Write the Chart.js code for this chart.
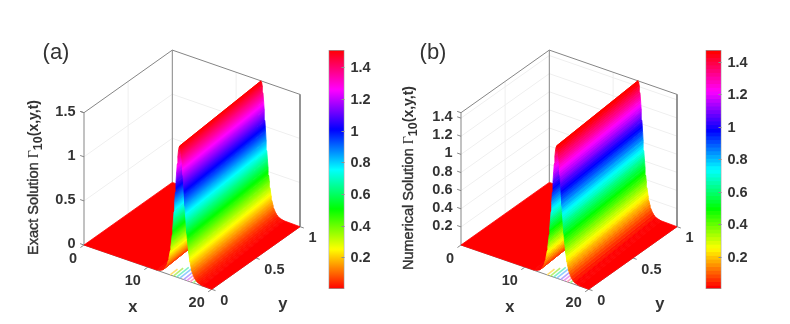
<!DOCTYPE html>
<html>
<head>
<meta charset="utf-8">
<title>Exact and numerical solution</title>
<script src="https://cdn.jsdelivr.net/npm/chart.js@4/dist/chart.umd.min.js"></script>
<style>
    html, body { margin: 0; background: #fff; }
    body { position: relative; width: 790px; height: 324px; overflow: hidden; }
    canvas { position: absolute; filter: blur(0.35px); }
</style>
</head>
<body>
<canvas id="surface-a" width="320" height="324" style="left:0;top:0"></canvas>
<canvas id="colorbar-a" width="62" height="260" style="left:328px;top:40px"></canvas>
<canvas id="surface-b" width="320" height="324" style="left:377px;top:0"></canvas>
<canvas id="colorbar-b" width="62" height="260" style="left:705px;top:40px"></canvas>
<script>
// cross section of the ridge at y = 0
const surfaceX = [11.4, 11.6, 11.8, 12.0, 12.2, 12.4, 12.6, 12.8, 13.0, 13.1, 13.2, 13.3, 13.4, 13.5, 13.6, 13.7, 13.8, 13.9, 14.0, 14.1, 14.2, 14.3, 14.4, 14.5, 14.6, 14.7, 14.8, 14.9, 15.0, 15.1, 15.2, 15.3, 15.4, 15.5, 15.6, 15.7, 15.8, 15.9, 16.0, 16.1, 16.2, 16.3, 16.4, 16.5, 16.6, 16.7, 16.8, 16.9, 17.0, 17.2, 17.4, 17.6, 17.8, 18.0, 18.2, 18.4, 18.6];
const exactZ = [0.004, 0.007, 0.010, 0.015, 0.022, 0.033, 0.049, 0.072, 0.106, 0.128, 0.155, 0.187, 0.226, 0.271, 0.324, 0.386, 0.457, 0.539, 0.630, 0.730, 0.839, 0.952, 1.067, 1.180, 1.283, 1.373, 1.441, 1.485, 1.500, 1.485, 1.441, 1.373, 1.283, 1.180, 1.067, 0.952, 0.839, 0.730, 0.630, 0.539, 0.457, 0.386, 0.324, 0.271, 0.226, 0.187, 0.155, 0.128, 0.106, 0.072, 0.049, 0.033, 0.022, 0.015, 0.010, 0.007, 0.004];
const numericalZ = [0.004, 0.007, 0.010, 0.015, 0.021, 0.032, 0.048, 0.070, 0.103, 0.125, 0.151, 0.182, 0.220, 0.264, 0.316, 0.376, 0.446, 0.525, 0.614, 0.712, 0.818, 0.928, 1.040, 1.150, 1.250, 1.338, 1.404, 1.447, 1.462, 1.447, 1.404, 1.338, 1.250, 1.150, 1.040, 0.928, 0.818, 0.712, 0.614, 0.525, 0.446, 0.376, 0.316, 0.264, 0.220, 0.182, 0.151, 0.125, 0.103, 0.070, 0.048, 0.032, 0.021, 0.015, 0.010, 0.007, 0.004];

// the ridge leans: its crest sits at a smaller x on the far side
const surfaceY = [0, 1];
const ridgeShift = [0, -1.1];

// thin mesh lines left visible on the floor under the ridge
const meshX = [13.5, 14.0, 14.5, 15.0, 15.6, 16.1, 16.6, 17.1];
const meshY = [0.09, 0.12, 0.15, 0.18, 0.22, 0.26, 0.29, 0.32];
const meshColors = ['#ffe070', '#b8f070', '#80f0c8', '#90ccff', '#b8a4ff', '#f098f0', '#ffa0c0', '#a8f090'];

const xTicks = [0, 10, 20];
const yTicks = [0, 0.5, 1];
const zTicksA = [0, 0.5, 1, 1.5];
const zTicksB = [0.2, 0.4, 0.6, 0.8, 1, 1.2, 1.4];
const colorTicks = [0.2, 0.4, 0.6, 0.8, 1, 1.2, 1.4];
const zRangeA = [0, 1.5];
const zRangeB = [0, 1.46];
const colorRangeA = [0, 1.508];
const colorRangeB = [0, 1.472];

const SANS = '"Liberation Sans", Arial, sans-serif';
const TICK_FONT = 'bold 14.5px ' + SANS;
const TEXT = '#333333';

const panelA = {
    z: exactZ, zTicks: zTicksA, zMax: zRangeA[1], tag: '(a)',
    title: 'Exact Solution', titleBottom: 255, titleX: 38,
};
const panelB = {
    z: numericalZ, zTicks: zTicksB, zMax: zRangeB[1], tag: '(b)',
    title: 'Numerical Solution', titleBottom: 270, titleX: 36,
};

// hsv colormap, same as matlab
function hsvColor(z, max, levels) {
    let t = Math.min(Math.max(z / max, 0), 1);
    if (levels) t = Math.min(Math.floor(t * levels), levels - 1) / (levels - 1);
    const h = t * 6;
    const f = h - Math.floor(h);
    const seg = Math.floor(h) % 6;
    const rgb = [[1, f, 0], [1 - f, 1, 0], [0, 1, f], [0, 1 - f, 1], [f, 0, 1], [1, 0, 1 - f]][seg];
    return 'rgb(' + rgb.map(c => Math.round(c * 255)).join(',') + ')';
}

// flat 3d axes onto the plane of the hidden chart scales
function project(x, y, z, zMax) {
    return {
        x: 84 + x * 6.385 + y * 88.3,
        y: 245 + x * 2.215 - y * 62.6 - z / zMax * 132.3,
    };
}

function lineSet(points, color, width) {
    return {
        data: points, showLine: true, fill: false, borderColor: color, borderWidth: width,
        pointRadius: 0, tension: 0,
    };
}

function quadSet(points, color) {
    return {
        data: [...points, points[0]], showLine: true, fill: 'shape', backgroundColor: color,
        borderColor: color, borderWidth: 0.8, pointRadius: 0, tension: 0,
    };
}

function stripColor(panel, i, levels) {
    let cached = null;
    return (ctx) => {
        if (cached) return cached;
        const { x: sx, y: sy } = ctx.chart.scales;
        const pix = (x, y, z) => {
            const p = project(x, y, z, panel.zMax);
            return { x: sx.getPixelForValue(p.x), y: sy.getPixelForValue(p.y) };
        };
        const z0 = panel.z[i];
        const z1 = panel.z[i + 1];
        const a = pix(surfaceX[i], surfaceY[0], z0);
        const b = pix(surfaceX[i + 1], surfaceY[0], z1);
        const far = pix(surfaceX[i] + ridgeShift[1], surfaceY[1], z0);
        if (![a.x, a.y, b.x, far.x].every(Number.isFinite)) return hsvColor(z0, panel.zMax);
        // colour only changes across the strip, never along the ridge
        const vx = far.x - a.x;
        const vy = far.y - a.y;
        const len = Math.hypot(vx, vy);
        const nx = -vy / len;
        const ny = vx / len;
        const d = (b.x - a.x) * nx + (b.y - a.y) * ny;
        const grad = ctx.chart.ctx.createLinearGradient(a.x, a.y, a.x + nx * d, a.y + ny * d);
        const steps = 12;
        for (let s = 0; s <= steps; s++) {
            const t = s / steps;
            grad.addColorStop(t, hsvColor(z0 + (z1 - z0) * t, panel.zMax, levels));
        }
        cached = grad;
        return grad;
    };
}

function buildDatasets(panel, levels) {
    const P = (x, y, z) => project(x, y, z, panel.zMax);
    const sets = [];
    const zMax = panel.zMax;

    // wall grid
    panel.zTicks.filter(z => z > 0 && z < zMax).forEach(z => {
        sets.push(lineSet([P(0, 0, z), P(0, 1, z), P(20, 1, z)], '#efefef', 1));
    });
    sets.push(lineSet([P(0, 0.5, 0), P(0, 0.5, zMax)], '#efefef', 1));
    sets.push(lineSet([P(10, 1, 0), P(10, 1, zMax)], '#efefef', 1));

    // box
    const edge = '#858585';
    sets.push(lineSet([P(0, 0, 0), P(0, 0, zMax), P(0, 1, zMax), P(20, 1, zMax), P(20, 1, 0)], edge, 1));
    sets.push(lineSet([P(0, 1, 0), P(0, 1, zMax)], edge, 1));
    sets.push(lineSet([P(0, 0, 0), P(20, 0, 0), P(20, 1, 0)], edge, 1));

    // ticks
    panel.zTicks.concat(zMax).forEach(z => sets.push(lineSet([P(0, 0, z), P(-0.6, 0, z)], edge, 1)));
    xTicks.forEach(x => sets.push(lineSet([P(x, 0, 0), P(x, -0.04, 0)], edge, 1)));
    yTicks.forEach(y => sets.push(lineSet([P(20, y, 0), P(20.6, y, 0)], edge, 1)));

    const last = surfaceX.length - 1;
    const crest = panel.z.indexOf(Math.max(...panel.z));

    // flat floor left of the ridge
    sets.push(quadSet([P(0, 0, 0), P(surfaceX[0], 0, panel.z[0]), P(surfaceX[0] + ridgeShift[1], 1, panel.z[0]), P(0, 1, 0)], hsvColor(0, zMax)));

    const strip = (i) => {
        const pts = [
            P(surfaceX[i] + ridgeShift[0], surfaceY[0], panel.z[i]),
            P(surfaceX[i + 1] + ridgeShift[0], surfaceY[0], panel.z[i + 1]),
            P(surfaceX[i + 1] + ridgeShift[1], surfaceY[1], panel.z[i + 1]),
            P(surfaceX[i] + ridgeShift[1], surfaceY[1], panel.z[i]),
        ];
        sets.push(quadSet(pts, stripColor(panel, i, levels)));
    };

    for (let i = 0; i < crest; i++) strip(i);

    meshX.forEach((x, i) => {
        sets.push(lineSet([P(x, 0, 0), P(x + meshY[i] * ridgeShift[1], meshY[i], 0)], meshColors[i], 1.6));
    });

    for (let i = crest; i < last; i++) strip(i);

    // flat floor right of the ridge
    sets.push(quadSet([P(surfaceX[last], 0, panel.z[last]), P(20, 0, 0), P(20, 1, 0), P(surfaceX[last] + ridgeShift[1], 1, panel.z[last])], hsvColor(0, zMax)));

    // first dataset ends up on top in chart.js, so flip the painter order
    return sets.reverse();
}

const surfaceText = {
    id: 'surfaceText',
    afterDraw(chart, args, opts) {
        const panel = opts.panel;
        const { ctx, scales } = chart;
        const at = (x, y, z) => {
            const p = project(x, y, z, panel.zMax);
            return { x: scales.x.getPixelForValue(p.x), y: scales.y.getPixelForValue(p.y) };
        };
        ctx.save();
        ctx.fillStyle = TEXT;
        ctx.textBaseline = 'middle';
        ctx.font = TICK_FONT;

        ctx.textAlign = 'right';
        panel.zTicks.forEach(z => {
            const p = at(0, 0, z);
            ctx.fillText(String(z), p.x - 8.5, p.y - 1);
        });
        xTicks.forEach(x => {
            const p = at(x, 0, 0);
            ctx.fillText(String(x), p.x - 7, p.y + 14);
        });
        ctx.textAlign = 'left';
        yTicks.forEach(y => {
            const p = at(20, y, 0);
            ctx.fillText(String(y), p.x + 8.5, p.y + 11.5);
        });

        ctx.font = 'bold 16.5px ' + SANS;
        ctx.textAlign = 'center';
        const xName = at(10, 0, 0);
        ctx.fillText('x', xName.x - 15, xName.y + 40);
        const yName = at(20, 0.5, 0);
        ctx.fillText('y', yName.x + 27, yName.y + 46.5);

        ctx.font = '22px ' + SANS;
        ctx.fillText(panel.tag, 56, 53);

        // rotated z title, one run per font
        ctx.save();
        ctx.translate(panel.titleX, panel.titleBottom);
        ctx.rotate(-Math.PI / 2);
        ctx.textAlign = 'left';
        ctx.textBaseline = 'alphabetic';
        ctx.strokeStyle = TEXT;
        ctx.lineWidth = 0.4;
        const runs = [
            [panel.title + ' ', '14.5px ' + SANS, 0, true],
            ['\u0393', '14px "Liberation Serif", serif', 0, false],
            ['10', 'bold 12.5px ' + SANS, 4, false],
            ['(x,y,t)', 'bold 14px ' + SANS, 0, false],
        ];
        let cursor = 0;
        runs.forEach(([text, font, drop, heavy]) => {
            ctx.font = font;
            ctx.fillText(text, cursor, drop);
            if (heavy) ctx.strokeText(text, cursor, drop);
            cursor += ctx.measureText(text).width;
        });
        ctx.restore();
        ctx.restore();
    },
};

function drawSurface(id, panel, levels) {
    new Chart(document.getElementById(id).getContext('2d'), {
        type: 'scatter',
        data: { datasets: buildDatasets(panel, levels) },
        options: {
            responsive: false,
            animation: false,
            scales: {
                x: { type: 'linear', display: false, min: 0, max: 320 },
                y: { type: 'linear', display: false, min: 0, max: 324, reverse: true },
            },
            plugins: {
                legend: { display: false },
                tooltip: { enabled: false },
                surfaceText: { panel },
            },
        },
        plugins: [surfaceText],
    });
}

const barTicks = {
    id: 'barTicks',
    afterDatasetsDraw(chart) {
        const { ctx, chartArea, scales } = chart;
        ctx.save();
        ctx.strokeStyle = '#8f8f8f';
        colorTicks.forEach(v => {
            const py = Math.round(scales.y.getPixelForValue(v)) + 0.5;
            ctx.beginPath();
            ctx.moveTo(chartArea.right - 3, py);
            ctx.lineTo(chartArea.right, py);
            ctx.stroke();
        });
        ctx.restore();
    },
};

function drawColorbar(id, range, levels) {
    new Chart(document.getElementById(id).getContext('2d'), {
        type: 'bar',
        data: {
            labels: [''],
            datasets: [{
                data: [range],
                barPercentage: 1,
                categoryPercentage: 1,
                borderWidth: 1,
                borderColor: '#999999',
                borderSkipped: false,
                backgroundColor: (ctx) => {
                    const { y } = ctx.chart.scales;
                    const top = y.getPixelForValue(range[1]);
                    const bottom = y.getPixelForValue(range[0]);
                    if (!Number.isFinite(top) || !Number.isFinite(bottom)) return '#ff0000';
                    const grad = ctx.chart.ctx.createLinearGradient(0, bottom, 0, top);
                    const steps = levels ? levels * 4 : 128;
                    for (let s = 0; s <= steps; s++) {
                        grad.addColorStop(s / steps, hsvColor(s / steps, 1, levels));
                    }
                    return grad;
                },
            }],
        },
        options: {
            responsive: false,
            animation: false,
            layout: { padding: { top: 10, bottom: 11, left: 0.5, right: 0 } },
            scales: {
                x: { display: false },
                y: {
                    position: 'right',
                    min: range[0],
                    max: range[1],
                    grid: { display: false, drawTicks: false },
                    border: { display: false },
                    afterFit: (scale) => {
                        scale.width = 45.5;
                        scale.paddingTop = 0;
                        scale.paddingBottom = 0;
                    },
                    afterBuildTicks: (scale) => { scale.ticks = colorTicks.map(value => ({ value })); },
                    ticks: {
                        autoSkip: false,
                        padding: 6,
                        labelOffset: 1,
                        color: TEXT,
                        font: { family: SANS, size: 14.5, weight: 'bold' },
                        callback: (v) => String(v),
                    },
                },
            },
            plugins: { legend: { display: false }, tooltip: { enabled: false } },
        },
        plugins: [barTicks],
    });
}

drawSurface('surface-a', panelA, 0);
drawColorbar('colorbar-a', colorRangeA, 0);
drawSurface('surface-b', panelB, 64);
drawColorbar('colorbar-b', colorRangeB, 64);
</script>
</body>
</html>
